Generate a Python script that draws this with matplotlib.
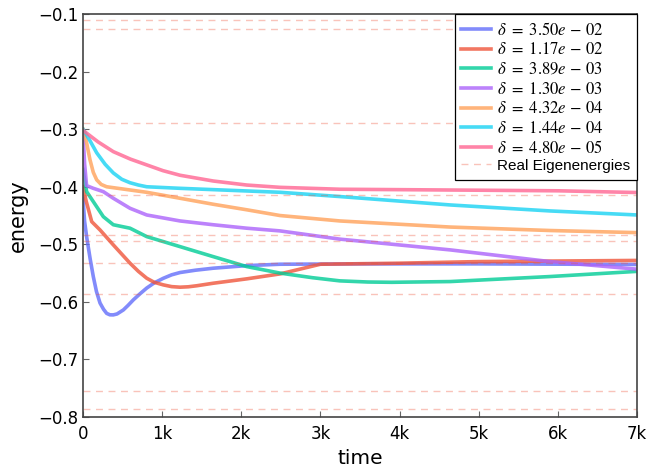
import numpy as np
import matplotlib
matplotlib.use("Agg")
import matplotlib.pyplot as plt
from matplotlib.ticker import FuncFormatter

plt.rcParams['mathtext.fontset'] = 'stix'

# real eigenenergies (dashed reference lines)
eigen = [-0.1104, -0.1266, -0.2887, -0.4137, -0.483, -0.4937,
         -0.5318, -0.586, -0.7545, -0.7858]

deltas = ['3.50e-02', '1.17e-02', '3.89e-03', '1.30e-03',
          '4.32e-04', '1.44e-04', '4.80e-05']
colors = ['#636EFA', '#EF553B', '#00CC96', '#AB63FA',
          '#FFA15A', '#19D3F3', '#FF6692']

# curves: (time, energy)
t_blue = [0, 20, 46, 90, 130, 170, 215, 260, 299, 340, 383, 430, 510, 570, 636, 720, 805, 900,
          1015, 1120, 1226, 1420, 1646, 2069, 2490, 3500, 5000, 7000]
e_blue = [-0.42, -0.46, -0.487, -0.525, -0.556, -0.582, -0.602, -0.613, -0.620, -0.6225, -0.6226,
          -0.621, -0.614, -0.606, -0.5965, -0.586, -0.576, -0.567, -0.559, -0.553, -0.549, -0.545,
          -0.5415, -0.537, -0.5346, -0.534, -0.534, -0.535]

t_red = [0, 40, 110, 215, 383, 594, 700, 805, 900, 1015, 1120, 1226, 1330, 1437, 1646, 2069, 2490,
         3000, 4000, 5000, 7000]
e_red = [-0.40, -0.425, -0.4606, -0.475, -0.501, -0.5328, -0.547, -0.5589, -0.566, -0.5705, -0.5735,
         -0.5745, -0.5738, -0.572, -0.5676, -0.560, -0.5514, -0.5346, -0.5328, -0.530, -0.528]

t_green = [0, 46, 130, 257, 383, 594, 805, 1226, 1646, 2069, 2490, 2900, 3245, 3600, 3900, 4640,
           5900, 7000]
e_green = [-0.37, -0.4085, -0.4258, -0.452, -0.466, -0.472, -0.4866, -0.504, -0.5214, -0.5387,
           -0.550, -0.558, -0.5635, -0.5655, -0.566, -0.5647, -0.556, -0.547]

t_purple = [0, 20, 45, 130, 257, 383, 594, 805, 1226, 1646, 2069, 2490, 3245, 4640, 5900, 7000]
e_purple = [-0.305, -0.36, -0.398, -0.4027, -0.4085, -0.420, -0.4374, -0.449, -0.4594, -0.466,
            -0.472, -0.4767, -0.491, -0.5097, -0.530, -0.5432]

t_orange = [0, 40, 88, 130, 173, 230, 299, 594, 805, 1226, 1646, 2069, 2490, 3245, 4640, 5900, 7000]
e_orange = [-0.30, -0.32, -0.353, -0.375, -0.388, -0.396, -0.400, -0.4056, -0.4096, -0.420, -0.4304,
            -0.440, -0.450, -0.4594, -0.470, -0.476, -0.4797]

t_cyan = [0, 80, 173, 280, 383, 490, 594, 700, 805, 1226, 2490, 3245, 4640, 5900, 7000]
e_cyan = [-0.30, -0.318, -0.341, -0.361, -0.376, -0.387, -0.393, -0.397, -0.400, -0.4027, -0.4096,
          -0.417, -0.4316, -0.442, -0.449]

t_pink = [0, 190, 383, 600, 805, 1010, 1226, 1646, 2069, 2490, 3245, 5000, 6000, 7000]
e_pink = [-0.302, -0.322, -0.339, -0.352, -0.362, -0.372, -0.380, -0.390, -0.397, -0.401, -0.4043,
          -0.406, -0.407, -0.410]

curves = [(t_blue, e_blue), (t_red, e_red), (t_green, e_green), (t_purple, e_purple),
          (t_orange, e_orange), (t_cyan, e_cyan), (t_pink, e_pink)]

fig = plt.figure(figsize=(6.5, 4.7), dpi=100)
ax = fig.add_axes([0.1277, 0.1128, 0.8523, 0.8572])

for (t, e), d, c in zip(curves, deltas, colors):
    ax.plot(t, e, color=c, linewidth=2.6, alpha=0.8, solid_joinstyle='round',
            label=r'$\delta\ =\ %s$' % d.replace('-', r'\,-\,'))

for i, ev in enumerate(eigen):
    ax.axhline(ev, color='#EF553B', alpha=0.35, linewidth=1.0,
               linestyle=(0, (5, 4)), label='Real Eigenenergies' if i == 0 else None)

ax.set_xlim(0, 7000)
ax.set_ylim(-0.8, -0.1)
ax.set_yticks(np.arange(-0.8, -0.05, 0.1))
ax.xaxis.set_major_formatter(FuncFormatter(lambda v, p: '0' if v == 0 else '%dk' % round(v / 1000)))
ax.yaxis.set_major_formatter(FuncFormatter(lambda v, p: ('%.1f' % v).replace('-', '\u2212')))
ax.tick_params(direction='in', length=4, color='#666666', labelsize=12)
ax.tick_params(axis='y', pad=3)
ax.tick_params(axis='x', pad=6)
for s in ax.spines.values():
    s.set_color('#444444')
    s.set_linewidth(1.2)

ax.set_xlabel('time', fontsize=14.5, labelpad=4)
ax.set_ylabel('energy', fontsize=15, labelpad=8)

leg = ax.legend(loc='upper right', borderaxespad=0, fontsize=12, fancybox=False,
                framealpha=1, handlelength=1.8, handletextpad=0.35, labelspacing=0.1,
                borderpad=0.4)
leg.get_frame().set_edgecolor('black')
leg.get_frame().set_linewidth(0.9)
for txt in leg.get_texts():
    if txt.get_text().startswith('Real'):
        txt.set_family('Liberation Sans')
        txt.set_fontsize(11)

plt.savefig('out.png', dpi=100)
